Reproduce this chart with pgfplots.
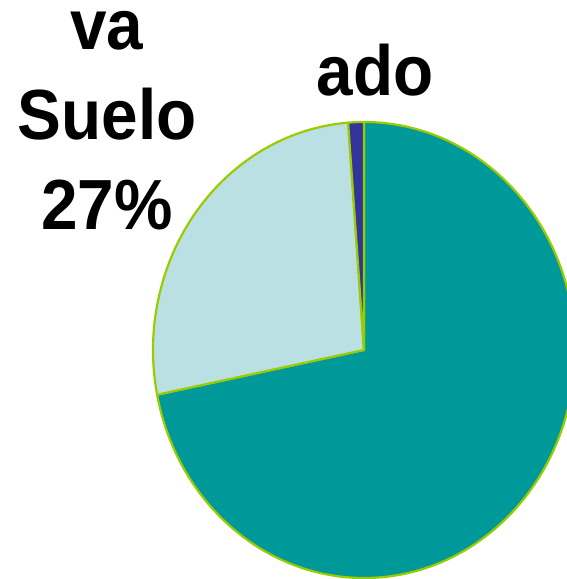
\documentclass[border=0pt]{standalone}
\usepackage{pgfplots}
\pgfplotsset{compat=1.18}
\usepackage{pgfplotstable}
\usepackage{fontspec}
\setmainfont{Liberation Sans}
\definecolor{sliceA}{RGB}{0,153,153}
\definecolor{sliceB}{RGB}{187,224,227}
\definecolor{sliceC}{RGB}{51,51,153}
\definecolor{edge}{RGB}{153,204,0}
\pgfplotstableread{
value
72
27
1.2
}\piedata
\begin{document}
\begin{tikzpicture}
\path[use as bounding box] (0,0) rectangle (567pt,579pt);
\clip (0,0) rectangle (567pt,579pt);
\pgfplotstablegetelem{0}{value}\of\piedata \let\vA\pgfplotsretval
\pgfplotstablegetelem{1}{value}\of\piedata \let\vB\pgfplotsretval
\pgfplotstablegetelem{2}{value}\of\piedata \let\vC\pgfplotsretval
\pgfmathsetmacro\tot{\vA+\vB+\vC}
\pgfmathsetmacro\aA{90}
\pgfmathsetmacro\aB{\aA-360*(\vA/\tot)}
\pgfmathsetmacro\aC{\aB-360*(\vB/\tot)}
\pgfmathsetmacro\aD{\aC-360*(\vC/\tot)}
\begin{axis}[at={(0,0)},anchor=south west,scale only axis,
  width=567pt,height=579pt,xmin=0,xmax=567,ymin=0,ymax=579,
  hide axis,clip=false]
\filldraw[fill=sliceA,draw=edge,line width=2.2pt,line join=round]
  (axis cs:364,229) -- (axis cs:{364+211*cos(\aA)},{229+228*sin(\aA)})
  arc[start angle=\aA,end angle=\aB,x radius=211pt,y radius=228pt] -- cycle;
\filldraw[fill=sliceB,draw=edge,line width=2.2pt,line join=round]
  (axis cs:364,229) -- (axis cs:{364+211*cos(\aB)},{229+228*sin(\aB)})
  arc[start angle=\aB,end angle=\aC,x radius=211pt,y radius=228pt] -- cycle;
\filldraw[fill=sliceC,draw=edge,line width=2.2pt,line join=round]
  (axis cs:364,229) -- (axis cs:{364+211*cos(\aC)},{229+228*sin(\aC)})
  arc[start angle=\aC,end angle=\aD,x radius=211pt,y radius=228pt] -- cycle;
\node[anchor=base,xscale=0.925,font=\fontsize{71pt}{71pt}\selectfont\bfseries] at (axis cs:107,529) {va};
\node[anchor=base,xscale=0.925,font=\fontsize{71pt}{71pt}\selectfont\bfseries] at (axis cs:107,439) {Suelo};
\node[anchor=base,xscale=0.925,font=\fontsize{71pt}{71pt}\selectfont\bfseries] at (axis cs:107,349) {27\%};
\node[anchor=base,xscale=0.925,font=\fontsize{71pt}{71pt}\selectfont\bfseries] at (axis cs:375,483) {ado};
\end{axis}
\end{tikzpicture}
\end{document}
